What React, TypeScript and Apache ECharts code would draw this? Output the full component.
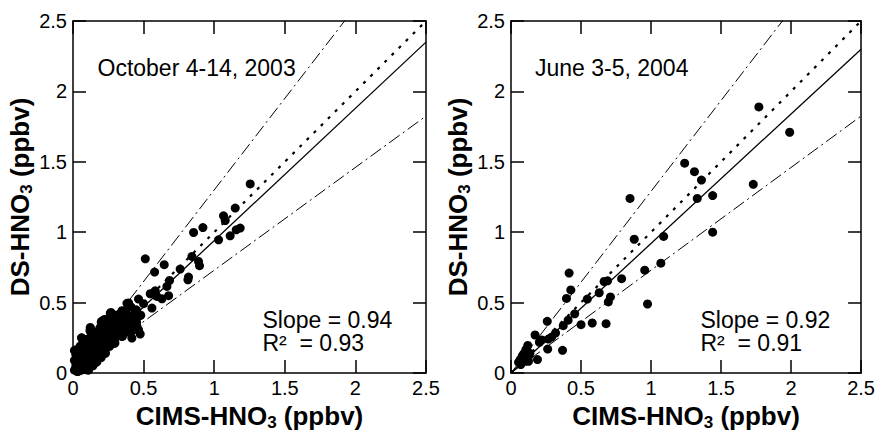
import React, { useEffect, useRef } from "react";
import * as echarts from "echarts";

const FONT = "'Liberation Sans', Arial, Helvetica, sans-serif";

// Axis ticks (both axes, both panels)
const axisMin = 0;
const axisMax = 2.5;
const axisInterval = 0.5;

// Panel titles and statistics
const panelTitles = ["October 4-14, 2003", "June 3-5, 2004"];
const slopeTexts = ["Slope = 0.94", "Slope = 0.92"];
const r2Texts = ["R\u00B2  = 0.93", "R\u00B2  = 0.91"];

// Regression / reference line slopes
const fitSlopes = [0.94, 0.92];
const oneToOneSlope = 1;
const upperBoundSlopes = [1.3, 1.29];
const lowerBoundSlopes = [0.73, 0.73];

// Left panel: October 4-14, 2003 (CIMS, DS)
const octoberPoints: number[][] = [
  [1.255, 1.343], [1.149, 1.171], [1.066, 1.116], [1.078, 1.083], [1.184, 1.029],
  [1.156, 1.017], [1.113, 0.974], [1.031, 0.946], [0.92, 1.033], [0.854, 0.998],
  [0.512, 0.811], [0.646, 0.769], [0.842, 0.828], [0.889, 0.792], [0.896, 0.762],
  [0.759, 0.738], [0.814, 0.662], [0.818, 0.681], [0.578, 0.717], [0.684, 0.657],
  [0.665, 0.615], [0.582, 0.584], [0.547, 0.563], [0.677, 0.549], [0.63, 0.527],
  [0.464, 0.525], [0.394, 0.497], [0.559, 0.461], [0.5, 0.492], [0.448, 0.449],
  [0.347, 0.442], [0.429, 0.397], [0.269, 0.43], [0.453, 0.331], [0.37, 0.378],
  [0.229, 0.378], [0.462, 0.402], [0.594, 0.544], [0.453, 0.433], [0.464, 0.307],
  [0.476, 0.277], [0.417, 0.248], [0.417, 0.355], [0.358, 0.366], [0.287, 0.414],
  [0.217, 0.378], [0.122, 0.324], [0.064, 0.248], [0.023, 0.165], [0.016, 0.082],
  [0.382, 0.495], [0.335, 0.377], [0.264, 0.425], [0.123, 0.318],
  [0.01, 0.02], [0.02, 0.05], [0.01, 0.09], [0.02, 0.13], [0.01, 0.16],
  [0.03, 0.01], [0.04, 0.04], [0.03, 0.08], [0.04, 0.11], [0.03, 0.15],
  [0.05, 0.19], [0.06, 0.02], [0.06, 0.06], [0.05, 0.1], [0.07, 0.13],
  [0.06, 0.17], [0.07, 0.22], [0.06, 0.25], [0.08, 0.03], [0.09, 0.07],
  [0.08, 0.1], [0.09, 0.15], [0.08, 0.19], [0.1, 0.24], [0.11, 0.02],
  [0.11, 0.06], [0.12, 0.1], [0.11, 0.13], [0.12, 0.17], [0.11, 0.21],
  [0.13, 0.27], [0.12, 0.3], [0.14, 0.05], [0.14, 0.09], [0.15, 0.13],
  [0.14, 0.16], [0.15, 0.2], [0.14, 0.24], [0.16, 0.29], [0.17, 0.08],
  [0.17, 0.12], [0.18, 0.15], [0.17, 0.19], [0.18, 0.23], [0.17, 0.27],
  [0.19, 0.32], [0.2, 0.36], [0.2, 0.11], [0.21, 0.14], [0.2, 0.18],
  [0.21, 0.22], [0.2, 0.26], [0.22, 0.3], [0.23, 0.14], [0.24, 0.18],
  [0.23, 0.21], [0.24, 0.25], [0.23, 0.29], [0.25, 0.33], [0.23, 0.38],
  [0.26, 0.19], [0.27, 0.22], [0.26, 0.26], [0.27, 0.3], [0.26, 0.35],
  [0.28, 0.41], [0.29, 0.21], [0.3, 0.25], [0.29, 0.28], [0.3, 0.32],
  [0.29, 0.37], [0.31, 0.4], [0.32, 0.27], [0.33, 0.3], [0.32, 0.34],
  [0.34, 0.37], [0.33, 0.42], [0.35, 0.26], [0.36, 0.31], [0.35, 0.35],
  [0.37, 0.39], [0.36, 0.44], [0.38, 0.33], [0.39, 0.29], [0.4, 0.36],
  [0.38, 0.42], [0.41, 0.47], [0.42, 0.3], [0.43, 0.32], [0.42, 0.4],
  [0.44, 0.44], [0.45, 0.36], [0.48, 0.41], [0.156, 0.071], [0.226, 0.142],
  [0.297, 0.213], [0.344, 0.26], [0.096, 0.023], [0.037, 0.011], [0.202, 0.366],
];

// Right panel: June 3-5, 2004 (CIMS, DS)
const junePoints: number[][] = [
  [1.77, 1.89], [1.99, 1.71], [1.73, 1.34], [1.44, 1.26], [1.44, 1.0],
  [1.24, 1.49], [1.31, 1.43], [1.36, 1.37], [1.33, 1.24], [0.85, 1.24],
  [0.88, 0.95], [1.09, 0.97], [1.07, 0.78], [0.955, 0.73], [0.975, 0.49],
  [0.79, 0.67], [0.665, 0.65], [0.69, 0.655], [0.71, 0.54], [0.695, 0.505],
  [0.63, 0.57], [0.545, 0.525], [0.415, 0.71], [0.427, 0.59], [0.396, 0.53],
  [0.455, 0.42], [0.408, 0.375], [0.5, 0.343], [0.58, 0.355], [0.679, 0.35],
  [0.373, 0.336], [0.318, 0.284], [0.29, 0.255], [0.259, 0.367], [0.368, 0.161],
  [0.267, 0.241], [0.172, 0.27], [0.203, 0.218], [0.22, 0.235], [0.262, 0.17],
  [0.189, 0.095], [0.12, 0.196], [0.106, 0.166], [0.09, 0.135], [0.125, 0.118],
  [0.066, 0.095], [0.101, 0.083], [0.054, 0.076], [0.125, 0.083], [0.135, 0.14],
  [0.08, 0.12], [0.11, 0.14], [0.07, 0.06],
];

const GRID_TOP = 21;
const GRID_H = 352;
const GRID_W = 353;
const GRID_LEFTS = [73, 511];

const black = "#000";

const nameRich = {
  b: { fontSize: 26, fontWeight: "bold" as const, fontFamily: FONT, color: black, verticalAlign: "middle" as const, lineHeight: 30 },
  s: { fontSize: 17, fontWeight: "bold" as const, fontFamily: FONT, color: black, verticalAlign: "bottom" as const, lineHeight: 16 },
};

export default function App() {
  const ref = useRef<HTMLDivElement>(null);

  useEffect(() => {
    if (!ref.current) return;
    const chart = echarts.init(ref.current, undefined, { renderer: "svg" });

    const grids = GRID_LEFTS.map((left) => ({
      left,
      top: GRID_TOP,
      width: GRID_W,
      height: GRID_H,
      show: false,
      containLabel: false,
    }));

    const axisLine = { show: true, onZero: false, lineStyle: { color: black, width: 1.5 } };
    const axisTick = { show: true, inside: true, length: 13, lineStyle: { color: black, width: 1.5 } };
    const labelStyle = { color: black, fontSize: 20, fontFamily: FONT };

    const xAxes: any[] = [];
    const yAxes: any[] = [];
    GRID_LEFTS.forEach((_, gi) => {
      xAxes.push({
        type: "value", gridIndex: gi, position: "bottom", min: axisMin, max: axisMax, interval: axisInterval,
        axisLine, axisTick, splitLine: { show: false },
        axisLabel: { ...labelStyle, margin: 5, formatter: (v: number) => String(v) },
        name: "{b|CIMS-HNO}{s|3}{b| (ppbv)}", nameLocation: "middle", nameGap: 25,
        nameTextStyle: { rich: nameRich },
      });
      xAxes.push({
        type: "value", gridIndex: gi, position: "top", min: axisMin, max: axisMax, interval: axisInterval,
        axisLine, axisTick, splitLine: { show: false }, axisLabel: { show: false },
      });
      yAxes.push({
        type: "value", gridIndex: gi, position: "left", min: axisMin, max: axisMax, interval: axisInterval,
        axisLine, axisTick, splitLine: { show: false },
        axisLabel: { ...labelStyle, margin: 6, formatter: (v: number) => String(v) },
        name: "{b|DS-HNO}{s|3}{b| (ppbv)}", nameLocation: "middle", nameGap: 36, nameRotate: 90,
        nameTextStyle: { rich: nameRich },
      });
      yAxes.push({
        type: "value", gridIndex: gi, position: "right", min: axisMin, max: axisMax, interval: axisInterval,
        axisLine, axisTick, splitLine: { show: false }, axisLabel: { show: false },
      });
    });

    const lineSeries = (gi: number, slope: number, lineStyle: any) => ({
      type: "line",
      xAxisIndex: gi * 2,
      yAxisIndex: gi * 2,
      data: [[axisMin, axisMin * slope], [axisMax, axisMax * slope]],
      showSymbol: false,
      symbol: "none",
      clip: true,
      silent: true,
      lineStyle: { color: black, opacity: 1, ...lineStyle },
      z: 1,
    });

    const datasets = [octoberPoints, junePoints];
    const series: any[] = [];
    datasets.forEach((pts, gi) => {
      series.push(lineSeries(gi, oneToOneSlope, { width: 2.2, type: [3, 7] }));
      series.push(lineSeries(gi, fitSlopes[gi], { width: 1.3, type: "solid" }));
      series.push(lineSeries(gi, upperBoundSlopes[gi], { width: 1, type: [13, 4, 2, 4] }));
      series.push(lineSeries(gi, lowerBoundSlopes[gi], { width: 1, type: [13, 4, 2, 4] }));
      series.push({
        type: "scatter",
        xAxisIndex: gi * 2,
        yAxisIndex: gi * 2,
        data: pts,
        symbol: "circle",
        symbolSize: 9,
        itemStyle: { color: black, opacity: 1 },
        clip: false,
        z: 3,
      });
    });

    const txt = (text: string) => ({
      text, fontSize: 23, fontFamily: FONT, fill: black,
      align: "left", verticalAlign: "middle", lineHeight: 23,
    });

    const graphics: any[] = [];
    GRID_LEFTS.forEach((left, gi) => {
      graphics.push({ type: "text", x: left + (gi === 0 ? 24.5 : 24), y: 67.5, style: txt(panelTitles[gi]) });
      graphics.push({ type: "text", x: left + 189.5, y: 319.5, style: txt(slopeTexts[gi]) });
      graphics.push({ type: "text", x: left + 189.5, y: 343, style: txt(r2Texts[gi]) });
    });

    chart.setOption({
      animation: false,
      backgroundColor: "#fff",
      grid: grids,
      xAxis: xAxes,
      yAxis: yAxes,
      series,
      graphic: graphics,
    });

    return () => chart.dispose();
  }, []);

  return (
    <div
      ref={ref}
      style={{ position: "fixed", left: 0, top: 0, width: 878, height: 436, background: "#fff" }}
    />
  );
}
